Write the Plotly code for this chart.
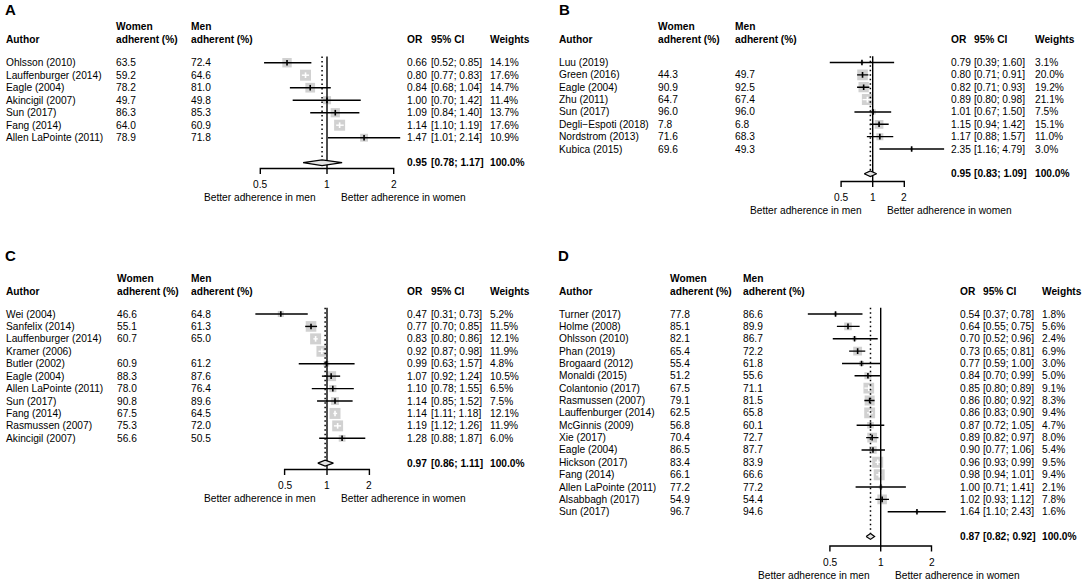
import numpy as np
import plotly.graph_objects as go

W, H = 1084, 581
FONT = "Liberation Sans, Arial, sans-serif"
FS = 10.2

# ───────────────────────── data ─────────────────────────────────────────────
# A
a_author = ["Ohlsson (2010)", "Lauffenburger (2014)", "Eagle (2004)", "Akincigil (2007)",
            "Sun (2017)", "Fang (2014)", "Allen LaPointe (2011)"]
a_women = [63.5, 59.2, 78.2, 49.7, 86.3, 64.0, 78.9]
a_men = [72.4, 64.6, 81.0, 49.8, 85.3, 60.9, 71.8]
a_or = [0.66, 0.80, 0.84, 1.00, 1.09, 1.14, 1.47]
a_lo = [0.52, 0.77, 0.68, 0.70, 0.84, 1.10, 1.01]
a_hi = [0.85, 0.83, 1.04, 1.42, 1.40, 1.19, 2.14]
a_wt = [14.1, 17.6, 14.7, 11.4, 13.7, 17.6, 10.9]
a_pooled = [0.95, 0.78, 1.17]

# B
b_author = ["Luu (2019)", "Green (2016)", "Eagle (2004)", "Zhu (2011)", "Sun (2017)",
            "Degli\u2212Espoti (2018)", "Nordstrom (2013)", "Kubica (2015)"]
b_women = [None, 44.3, 90.9, 64.7, 96.0, 7.8, 71.6, 69.6]
b_men = [None, 49.7, 92.5, 67.4, 96.0, 6.8, 68.3, 49.3]
b_or = [0.79, 0.80, 0.82, 0.89, 1.01, 1.15, 1.17, 2.35]
b_lo = [0.39, 0.71, 0.71, 0.80, 0.67, 0.94, 0.88, 1.16]
b_hi = [1.60, 0.91, 0.93, 0.98, 1.50, 1.42, 1.57, 4.79]
b_wt = [3.1, 20.0, 19.2, 21.1, 7.5, 15.1, 11.0, 3.0]
b_pooled = [0.95, 0.83, 1.09]

# C
c_author = ["Wei (2004)", "Sanfelix (2014)", "Lauffenburger (2014)", "Kramer (2006)",
            "Butler (2002)", "Eagle (2004)", "Allen LaPointe (2011)", "Sun (2017)",
            "Fang (2014)", "Rasmussen (2007)", "Akincigil (2007)"]
c_women = [46.6, 55.1, 60.7, None, 60.9, 88.3, 78.0, 90.8, 67.5, 75.3, 56.6]
c_men = [64.8, 61.3, 65.0, None, 61.2, 87.6, 76.4, 89.6, 64.5, 72.0, 50.5]
c_or = [0.47, 0.77, 0.83, 0.92, 0.99, 1.07, 1.10, 1.14, 1.14, 1.19, 1.28]
c_lo = [0.31, 0.70, 0.80, 0.87, 0.63, 0.92, 0.78, 0.85, 1.11, 1.12, 0.88]
c_hi = [0.73, 0.85, 0.86, 0.98, 1.57, 1.24, 1.55, 1.52, 1.18, 1.26, 1.87]
c_wt = [5.2, 11.5, 12.1, 11.9, 4.8, 10.5, 6.5, 7.5, 12.1, 11.9, 6.0]
c_pooled = [0.97, 0.86, 1.11]

# D
d_author = ["Turner (2017)", "Holme (2008)", "Ohlsson (2010)", "Phan (2019)", "Brogaard (2012)",
            "Monaldi (2015)", "Colantonio (2017)", "Rasmussen (2007)", "Lauffenburger (2014)",
            "McGinnis (2009)", "Xie (2017)", "Eagle (2004)", "Hickson (2017)", "Fang (2014)",
            "Allen LaPointe (2011)", "Alsabbagh (2017)", "Sun (2017)"]
d_women = [77.8, 85.1, 82.1, 65.4, 55.4, 51.2, 67.5, 79.1, 62.5, 56.8, 70.4, 86.5, 83.4,
           66.1, 77.2, 54.9, 96.7]
d_men = [86.6, 89.9, 86.7, 72.2, 61.8, 55.6, 71.1, 81.5, 65.8, 60.1, 72.7, 87.7, 83.9,
         66.6, 77.2, 54.4, 94.6]
d_or = [0.54, 0.64, 0.70, 0.73, 0.77, 0.84, 0.85, 0.86, 0.86, 0.87, 0.89, 0.90, 0.96,
        0.98, 1.00, 1.02, 1.64]
d_lo = [0.37, 0.55, 0.52, 0.65, 0.59, 0.70, 0.80, 0.80, 0.83, 0.72, 0.82, 0.77, 0.93,
        0.94, 0.71, 0.93, 1.10]
d_hi = [0.78, 0.75, 0.96, 0.81, 1.00, 0.99, 0.89, 0.92, 0.90, 1.05, 0.97, 1.06, 0.99,
        1.01, 1.41, 1.12, 2.43]
d_wt = [1.8, 5.6, 2.4, 6.9, 3.0, 5.0, 9.1, 8.3, 9.4, 4.7, 8.0, 5.4, 9.5, 9.4, 2.1, 7.8, 1.6]
d_pooled = [0.87, 0.82, 0.92]

ticks = [0.5, 1, 2]
tick_text = ["0.5", "1", "2"]
label_left = "Better adherence in men"
label_right = "Better adherence in women"

# ───────────────────────── layout (pixels) ──────────────────────────────────
# cols: author, women, men, OR, CI, weight ; ref = pixel of OR=1 ; ppl = px per log2
panels = [
    dict(key="A", author=a_author, women=a_women, men=a_men, est=a_or, lo=a_lo, hi=a_hi,
         wt=a_wt, pooled=a_pooled,
         cols=(3.5, 114, 189, 405, 429, 488), ref=327, ppl=66.7, r0=62.7, sp=12.5,
         axis=168.5, head=(26.7, 39.5), letter=(3, 10), band=(0, 236)),
    dict(key="B", author=b_author, women=b_women, men=b_men, est=b_or, lo=b_lo, hi=b_hi,
         wt=b_wt, pooled=b_pooled,
         cols=(557.5, 655.5, 732.6, 949.4, 972, 1032.7), ref=872.7, ppl=31.6, r0=62.5, sp=12.36,
         axis=181.5, head=(26.7, 39.5), letter=(557, 10), band=(0, 236)),
    dict(key="C", author=c_author, women=c_women, men=c_men, est=c_or, lo=c_lo, hi=c_hi,
         wt=c_wt, pooled=c_pooled,
         cols=(3.5, 114.5, 189, 405, 429, 488), ref=327, ppl=42.4, r0=314, sp=12.43,
         axis=469.5, head=(278.3, 291), letter=(3, 255), band=(238, 581)),
    dict(key="D", author=d_author, women=d_women, men=d_men, est=d_or, lo=d_lo, hi=d_hi,
         wt=d_wt, pooled=d_pooled,
         cols=(557.5, 668.4, 741.2, 958, 980.7, 1039.6), ref=880.7, ppl=50.8, r0=314, sp=12.36,
         axis=546, head=(278.3, 291), letter=(556, 255), band=(238, 581)),
]

BOX = 11            # side of the largest square, px
HALF = 105          # half width of forest area, px
BOX_COL = "#BEBEBE"


def txt(x, y, s, xref="paper", yref="paper", bold=False, anchor="left", size=FS, xshift=0):
    return dict(x=x, y=y, xref=xref, yref=yref, text=f"<b>{s}</b>" if bold else s,
                showarrow=False, xanchor=anchor, yanchor="middle", xshift=xshift,
                font=dict(family=FONT, size=size, color="black"))


fig = go.Figure()
annotations = []
layout_axes = {}

for k, p in enumerate(panels, start=1):
    xa = "x" if k == 1 else f"x{k}"
    ya = "y" if k == 1 else f"y{k}"
    r0, sp = p["r0"], p["sp"]
    row = lambda px: (px - r0) / sp

    # axes
    half_log = HALF / p["ppl"] * np.log10(2)
    T, B = p["band"]
    layout_axes["xaxis" if k == 1 else f"xaxis{k}"] = dict(
        type="log", range=[-half_log, half_log], visible=False,
        domain=[(p["ref"] - HALF) / W, (p["ref"] + HALF) / W], anchor=ya)
    layout_axes["yaxis" if k == 1 else f"yaxis{k}"] = dict(
        range=[row(B), row(T)], visible=False,
        domain=[1 - B / H, 1 - T / H], anchor=xa)

    n = len(p["author"])
    idx = list(range(n))
    est, lo, hi, wt = (np.array(p[c], dtype=float) for c in ("est", "lo", "hi", "wt"))
    size = BOX * (wt / wt.max()) ** 0.7
    ext = p["ppl"] * np.maximum(np.log2(est / lo), np.log2(hi / est))
    inside = ext <= size / 2

    # squares
    fig.add_trace(go.Scatter(x=est, y=idx, mode="markers", xaxis=xa, yaxis=ya,
                             marker=dict(symbol="square", size=size, color=BOX_COL,
                                         line=dict(width=0)),
                             hoverinfo="skip"))
    # CI lines
    for flag, col in ((False, "black"), (True, "white")):
        xs, ys = [], []
        for i in idx:
            if inside[i] == flag:
                xs += [lo[i], hi[i], None]
                ys += [i, i, None]
        if xs:
            fig.add_trace(go.Scatter(x=xs, y=ys, mode="lines", xaxis=xa, yaxis=ya,
                                     line=dict(color=col, width=1.4), hoverinfo="skip"))
    # point estimates
    fig.add_trace(go.Scatter(
        x=est, y=idx, mode="markers", xaxis=xa, yaxis=ya,
        marker=dict(symbol="line-ns", size=4,
                    line=dict(width=1.6, color=["white" if f else "black" for f in inside])),
        customdata=np.stack([lo, hi, wt], axis=1),
        hovertemplate="OR %{x:.2f} [%{customdata[0]:.2f}; %{customdata[1]:.2f}]"
                      "<br>weight %{customdata[2]:.1f}%<extra></extra>"))

    s = n + 1
    dh = 2.9 / sp
    pe, plo, phi = p["pooled"]
    y_ax = row(p["axis"])
    tk = 5.5 / sp

    # reference line, pooled dotted line
    fig.add_trace(go.Scatter(x=[1, 1], y=[-0.5, y_ax], mode="lines", xaxis=xa, yaxis=ya,
                             line=dict(color="black", width=1.4), hoverinfo="skip"))
    fig.add_trace(go.Scatter(x=[pe, pe], y=[-0.5, s - dh], mode="lines", xaxis=xa, yaxis=ya,
                             line=dict(color="black", width=1.5, dash="1.5px,3px"),
                             hoverinfo="skip"))
    # diamond
    fig.add_trace(go.Scatter(x=[plo, pe, phi, pe, plo], y=[s, s - dh, s, s + dh, s],
                             mode="lines", fill="toself", fillcolor="#E4E4E4",
                             xaxis=xa, yaxis=ya, line=dict(color="black", width=1.2),
                             hoverinfo="skip"))
    # bottom bracket axis
    fig.add_trace(go.Scatter(
        x=[ticks[0], ticks[0], ticks[2], ticks[2], None, ticks[1], ticks[1]],
        y=[y_ax + tk, y_ax, y_ax, y_ax + tk, None, y_ax, y_ax + tk],
        mode="lines", xaxis=xa, yaxis=ya, line=dict(color="black", width=1.4),
        hoverinfo="skip"))
    for t, tt in zip(ticks, tick_text):
        annotations.append(txt(np.log10(t), row(p["axis"] + 16), tt, xref=xa, yref=ya,
                               anchor="center"))
    annotations.append(txt(0, row(p["axis"] + 29), label_left, xref=xa, yref=ya,
                           anchor="right", xshift=-9))
    annotations.append(txt(0, row(p["axis"] + 29), label_right, xref=xa, yref=ya,
                           anchor="left", xshift=12))

    # headers
    c = [v / W for v in p["cols"]]
    h1, h2 = (1 - v / H for v in p["head"])
    annotations.append(txt(p["letter"][0] / W, 1 - p["letter"][1] / H, p["key"], bold=True,
                           size=15))
    annotations += [
        txt(c[0], h2, "Author", bold=True),
        txt(c[1], h1, "Women", bold=True), txt(c[1], h2, "adherent (%)", bold=True),
        txt(c[2], h1, "Men", bold=True), txt(c[2], h2, "adherent (%)", bold=True),
        txt(c[3], h2, "OR", bold=True), txt(c[4], h2, "95% CI", bold=True),
        txt(c[5], h2, "Weights", bold=True),
    ]
    # study rows
    for i in idx:
        wv, mv = p["women"][i], p["men"][i]
        annotations += [
            txt(c[0], i, p["author"][i], yref=ya),
            txt(c[1], i, "" if wv is None else f"{wv:.1f}", yref=ya),
            txt(c[2], i, "" if mv is None else f"{mv:.1f}", yref=ya),
            txt(c[3], i, f"{est[i]:.2f}", yref=ya),
            txt(c[4], i, f"[{lo[i]:.2f}; {hi[i]:.2f}]", yref=ya),
            txt(c[5], i, f"{wt[i]:.1f}%", yref=ya),
        ]
    # pooled row
    annotations += [
        txt(c[3], s, f"{pe:.2f}", yref=ya, bold=True),
        txt(c[4], s, f"[{plo:.2f}; {phi:.2f}]", yref=ya, bold=True),
        txt(c[5], s, f"{wt.sum():.1f}%", yref=ya, bold=True),
    ]

fig.update_layout(
    width=W, height=H,
    margin=dict(l=0, r=0, t=0, b=0),
    paper_bgcolor="white", plot_bgcolor="rgba(0,0,0,0)",
    showlegend=False,
    annotations=annotations,
    font=dict(family=FONT, size=FS, color="black"),
    **layout_axes,
)

# page body margin would shift the 1084x581 figure off the window
fig.write_html("out.html", config={"displayModeBar": False},
               post_script="document.body.style.margin = '0px';")
